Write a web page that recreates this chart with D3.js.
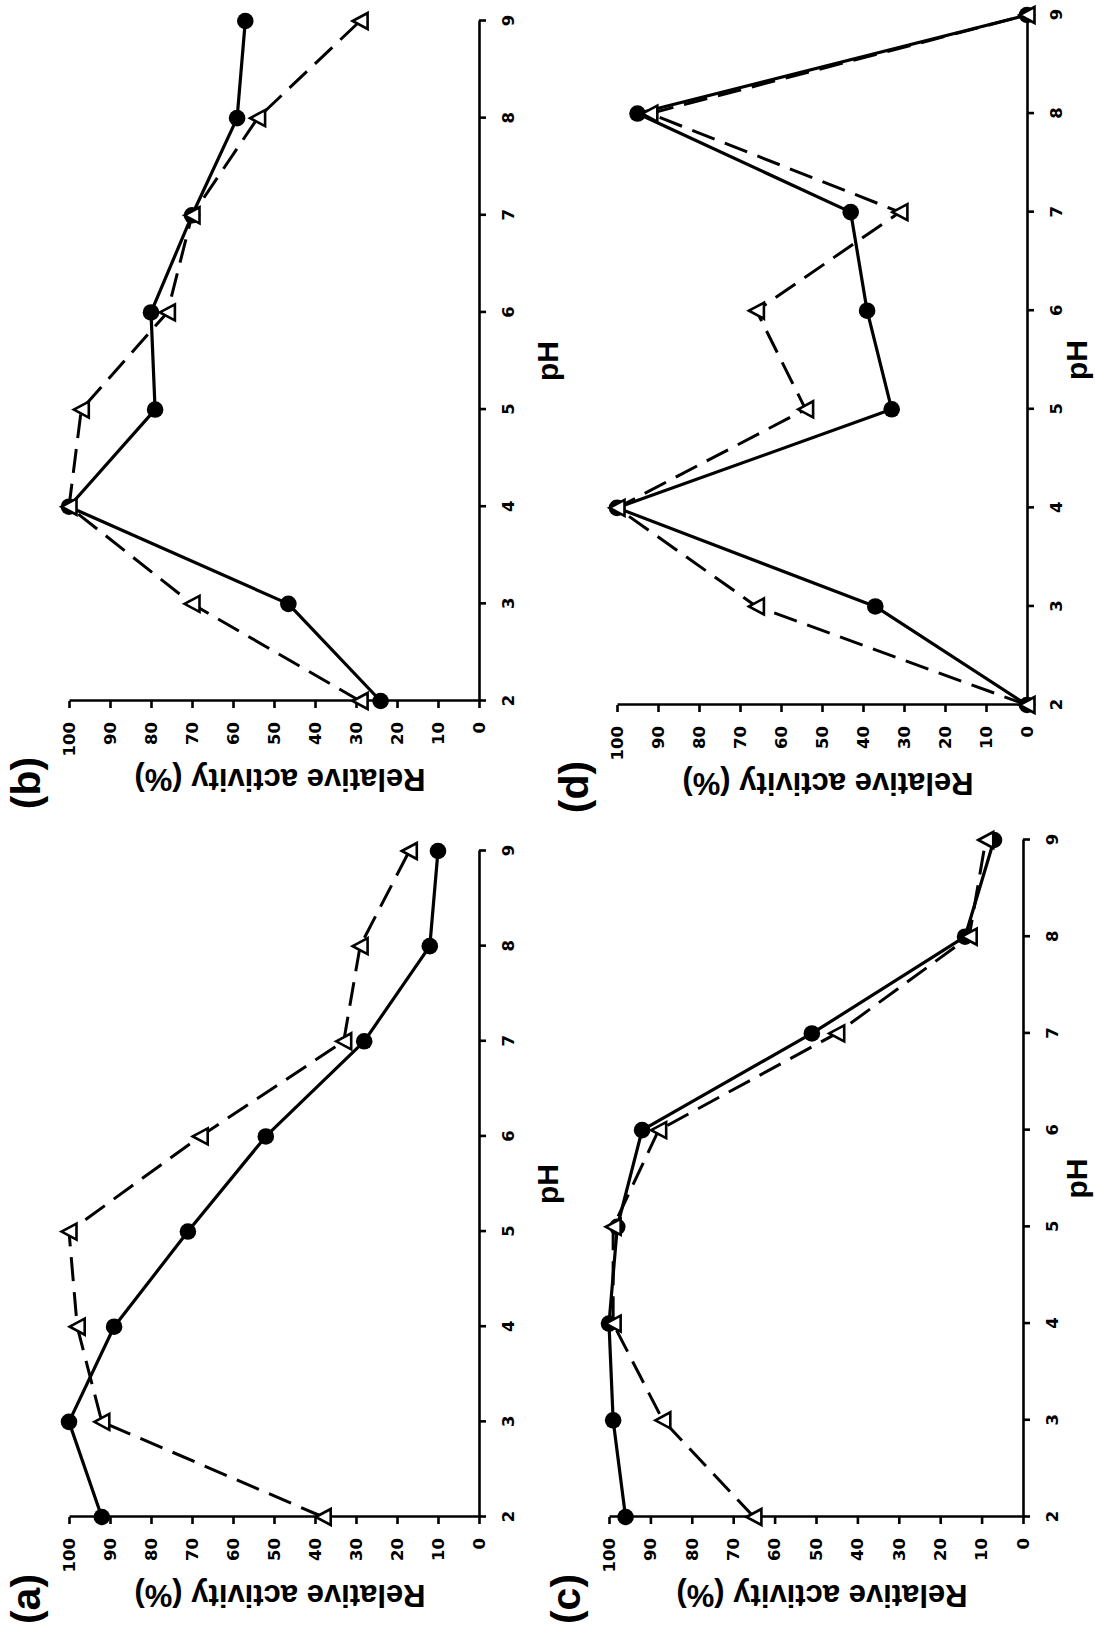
<!DOCTYPE html>
<html>
<head>
<meta charset="utf-8">
<script src="https://cdn.jsdelivr.net/npm/d3@7"></script>
<style>
  html, body { margin: 0; padding: 0; background: #fff; }
  svg { display: block; }
</style>
</head>
<body>
<svg id="chart" width="1095" height="1628"></svg>
<script>
// ---------- data ----------
const pHValues = [2, 3, 4, 5, 6, 7, 8, 9];
const activityTicks = [0, 10, 20, 30, 40, 50, 60, 70, 80, 90, 100];
const panelLabels = ["(a)", "(b)", "(c)", "(d)"];
const xTitle = "pH";
const yTitle = "Relative activity (%)";

// filled circles (solid line)
const aCircle = [92, 100, 89, 71, 52, 28, 12, 10];
const bCircle = [24, 46.5, 100, 79, 80, 70, 59, 57];
const cCircle = [96, 99, 100, 98, 92, 51, 14, 7];
const dCircle = [0, 37, 100, 33, 39, 43, 95, 0];

// open triangles (dashed line)
const aTriangle = [38, 92, 98, 100, 68, 33, 29, 17];
const bTriangle = [29, 70, 100, 97, 76, 70, 54, 29];
const cTriangle = [65, 87, 99, 99, 88, 45, 13, 9];
const dTriangle = [0, 66, 100, 54, 66, 31, 92, 0];

// ---------- layout (figure drawn upright, then rotated -90deg) ----------
const W = 1628, H = 1095;
const panels = [
  { label: panelLabels[0], circ: aCircle, tri: aTriangle, x0: 111, x1: 777, y0: 479, y1: 69, xt: 558 },
  { label: panelLabels[1], circ: bCircle, tri: bTriangle, x0: 927, x1: 1607, y0: 479, y1: 69, xt: 558 },
  { label: panelLabels[2], circ: cCircle, tri: cTriangle, x0: 111, x1: 788, y0: 1023, y1: 609, xt: 1087 },
  { label: panelLabels[3], circ: dCircle, tri: dTriangle, x0: 923, x1: 1613, y0: 1027, y1: 617, xt: 1087 }
];

const svg = d3.select("#chart");
svg.append("rect").attr("width", 1095).attr("height", 1628).attr("fill", "#fff");
const root = svg.append("g").attr("transform", `translate(0,${W}) rotate(-90)`);

const tickFont = "'DejaVu Sans', Verdana, sans-serif";
const titleFont = "'Liberation Sans', Arial, sans-serif";

panels.forEach(p => {
  const x = d3.scaleLinear().domain([2, 9]).range([p.x0, p.x1]);
  const y = d3.scaleLinear().domain([0, 100]).range([p.y0, p.y1]);
  const g = root.append("g");

  // x axis (pH)
  const xa = g.append("g")
    .attr("transform", `translate(0,${p.y0})`)
    .call(d3.axisBottom(x).tickValues(pHValues).tickSize(7).tickSizeOuter(0).tickPadding(16).tickFormat(d3.format("d")));
  // y axis (activity)
  const ya = g.append("g")
    .attr("transform", `translate(${p.x0},0)`)
    .call(d3.axisLeft(y).tickValues(activityTicks).tickSize(7).tickSizeOuter(0).tickPadding(14).tickFormat(d3.format("d")));

  [xa, ya].forEach(ax => {
    ax.select(".domain").attr("stroke", "#000").attr("stroke-width", 2.6);
    ax.selectAll(".tick line").attr("stroke", "#000").attr("stroke-width", 2.6);
    ax.selectAll(".tick text")
      .attr("fill", "#000")
      .style("font-family", tickFont)
      .style("font-weight", "bold")
      .style("font-size", "16.5px");
  });

  // titles
  g.append("text")
    .attr("x", (p.x0 + p.x1) / 2)
    .attr("y", p.xt)
    .attr("text-anchor", "middle")
    .style("font-family", titleFont)
    .style("font-weight", "bold")
    .style("font-size", "30px")
    .text(xTitle);

  const yc = (p.y0 + p.y1) / 2 + 6;
  g.append("text")
    .attr("transform", `translate(${p.x0 - 68},${yc}) rotate(-90)`)
    .attr("text-anchor", "middle")
    .style("font-family", titleFont)
    .style("font-weight", "bold")
    .style("font-size", "31px")
    .text(yTitle);

  g.append("text")
    .attr("x", p.x0 - 82)
    .attr("y", p.y1 - 29.5)
    .attr("text-anchor", "middle")
    .style("font-family", titleFont)
    .style("font-weight", "bold")
    .style("font-size", "41px")
    .text(p.label);

  // series
  const circData = pHValues.map((ph, i) => ({ ph, v: p.circ[i] }));
  const triData = pHValues.map((ph, i) => ({ ph, v: p.tri[i] }));
  const line = d3.line().x(d => x(d.ph)).y(d => y(d.v));

  g.append("path").datum(circData).attr("d", line)
    .attr("fill", "none").attr("stroke", "#000").attr("stroke-width", 3.2)
    .attr("stroke-linejoin", "round");
  g.append("path").datum(triData).attr("d", line)
    .attr("fill", "none").attr("stroke", "#000").attr("stroke-width", 3)
    .attr("stroke-dasharray", "24,11");

  g.selectAll("circle.pt").data(circData).enter().append("circle")
    .attr("class", "pt")
    .attr("cx", d => x(d.ph)).attr("cy", d => y(d.v)).attr("r", 8.3)
    .attr("fill", "#000");

  const tw = 16, th = 15;
  g.selectAll("path.tri").data(triData).enter().append("path")
    .attr("class", "tri")
    .attr("transform", d => `translate(${x(d.ph)},${y(d.v)})`)
    .attr("d", `M0,${-th / 2} L${tw / 2},${th / 2} L${-tw / 2},${th / 2} Z`)
    .attr("fill", "#fff").attr("stroke", "#000").attr("stroke-width", 2.6)
    .attr("stroke-linejoin", "miter");
});
</script>
</body>
</html>
